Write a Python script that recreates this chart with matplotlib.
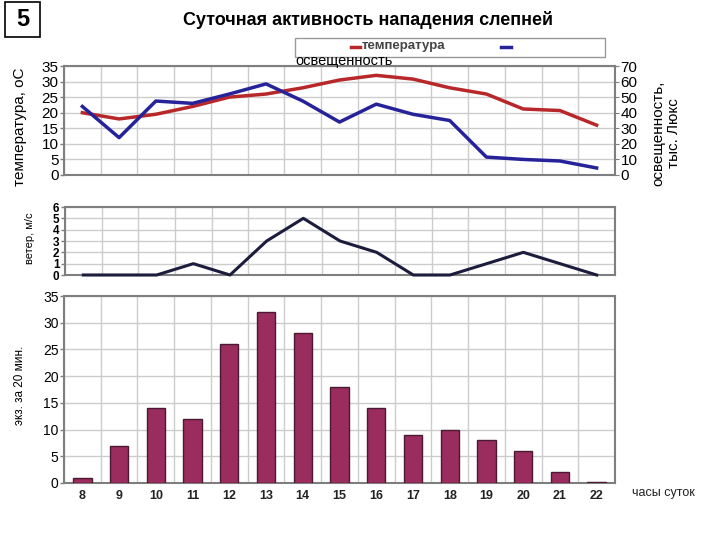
import matplotlib
matplotlib.use("Agg")
import matplotlib.pyplot as plt
from matplotlib.lines import Line2D
from matplotlib.patches import Rectangle
import numpy as np

plt.rcParams['font.family'] = ['Liberation Sans', 'DejaVu Sans']
narrow = ['Liberation Sans Narrow', 'Liberation Sans']

hours = [8, 9, 10, 11, 12, 13, 14, 15, 16, 17, 18, 19, 20, 21, 22]
temperature = [20, 18, 19.5, 22, 25, 26, 28, 30.5, 32, 30.8, 28, 26, 21.2, 20.7, 16]
light = [44, 24, 47.5, 46, 52, 58.5, 47.5, 34, 45.5, 39, 35, 11.5, 10, 9, 4.5]
wind = [0, 0, 0, 1, 0, 3, 5, 3, 2, 0, 0, 1, 2, 1, 0]
attacks = [1, 7, 14, 12, 26, 32, 28, 18, 14, 9, 10, 8, 6, 2, 0.2]

W, H = 720, 540
fig = plt.figure(figsize=(7.2, 5.4), dpi=100)

def box(x0, y0, x1, y1):
    return [x0 / W, 1 - y1 / H, (x1 - x0) / W, (y1 - y0) / H]

grid_c = '#cccccc'
spine_c = '#7f7f7f'
x = np.arange(len(hours))

def style(ax, ymax, ystep):
    ax.set_xlim(-0.5, len(hours) - 0.5)
    ax.set_ylim(0, ymax)
    ax.set_yticks(np.arange(0, ymax + 0.1, ystep))
    ax.set_xticks(x)
    ax.set_xticks(np.arange(-0.5, len(hours), 1), minor=True)
    ax.grid(True, which='minor', axis='x', color=grid_c, lw=1)
    ax.grid(True, which='major', axis='y', color=grid_c, lw=1)
    ax.tick_params(axis='x', which='both', length=0)
    ax.tick_params(axis='y', length=3, width=1, color=spine_c, pad=1)
    ax.set_axisbelow(True)
    for s in ax.spines.values():
        s.set_color(spine_c)
        s.set_linewidth(1.5)

# top panel: temperature + light
ax1 = fig.add_axes(box(64, 66, 615, 175))
style(ax1, 35, 5)
ax1.set_xticklabels([])
ax1.plot(x, temperature, color='#b8282a', lw=2.5, zorder=3)
ax1r = ax1.twinx()
ax1r.set_ylim(0, 70)
ax1r.set_yticks(np.arange(0, 71, 10))
ax1r.tick_params(axis='y', length=3, color=spine_c, pad=1)
for s in ax1r.spines.values():
    s.set_visible(False)
ax1r.plot(x, light, color='#26239a', lw=2.5, zorder=3)
for lab in ax1.get_yticklabels() + ax1r.get_yticklabels():
    lab.set_fontsize(11)
    lab.set_family(narrow)

# wind panel
ax2 = fig.add_axes(box(65, 207, 615, 275))
style(ax2, 6, 1)
ax2.set_xticklabels([])
ax2.plot(x, wind, color='#1c1c3c', lw=2.2, clip_on=False, zorder=3)
for lab in ax2.get_yticklabels():
    lab.set_fontsize(8.5)
    lab.set_fontweight('bold')

# bars panel
ax3 = fig.add_axes(box(64, 296, 615, 483))
style(ax3, 35, 5)
ax3.bar(x, attacks, width=0.5, color='#9a2c5e', edgecolor='#4b1a32', lw=1, zorder=3)
ax3.set_xticklabels([str(h) for h in hours], fontsize=9, fontweight='bold', color='#222222')
ax3.tick_params(axis='x', pad=5)
for lab in ax3.get_yticklabels():
    lab.set_fontsize(10)

# labels
fig.text(20 / W, 1 - 127 / H, 'температура, оС', rotation=90, ha='center', va='center', fontsize=11)
fig.text(666 / W, 1 - 133 / H, 'освещенность,\nтыс. Люкс', rotation=90, ha='center', va='center', fontsize=11, linespacing=1.1)
fig.text(30 / W, 1 - 238 / H, 'ветер, м/с', rotation=90, ha='center', va='center', fontsize=8)
fig.text(20 / W, 1 - 385 / H, 'экз. за 20 мин.', rotation=90, ha='center', va='center', fontsize=8.5)
fig.text(632 / W, 1 - 493 / H, 'часы суток', ha='left', va='center', fontsize=9, color='#222222')

# title and number box
fig.text(368 / W, 1 - 20 / H, 'Суточная активность нападения слепней', ha='center', va='center', fontsize=13, fontweight='bold')
fig.add_artist(Rectangle((5 / W, 1 - 37 / H), 35 / W, 35 / H, transform=fig.transFigure, fill=False, ec='black', lw=1.2))
fig.text(22.5 / W, 1 - 19.5 / H, '5', ha='center', va='center', fontsize=17, fontweight='bold')

# legend box (drawn by hand to match the clipped original)
fig.add_artist(Rectangle((295 / W, 1 - 57 / H), 310 / W, 19 / H, transform=fig.transFigure, fill=False, ec='#999999', lw=1))
fig.add_artist(Line2D([351 / W, 360 / W], [1 - 46.5 / H] * 2, transform=fig.transFigure, color='#b8282a', lw=2.5))
fig.text(362 / W, 1 - 46.5 / H, 'температура', ha='left', va='center', fontsize=9.5, fontweight='bold', color='#444444')
fig.add_artist(Line2D([501 / W, 511 / W], [1 - 46.5 / H] * 2, transform=fig.transFigure, color='#26239a', lw=2.5))
fig.text(295 / W, 1 - 61.5 / H, 'освещенность', ha='left', va='center', fontsize=10.5)

fig.savefig('out.png', dpi=100)
